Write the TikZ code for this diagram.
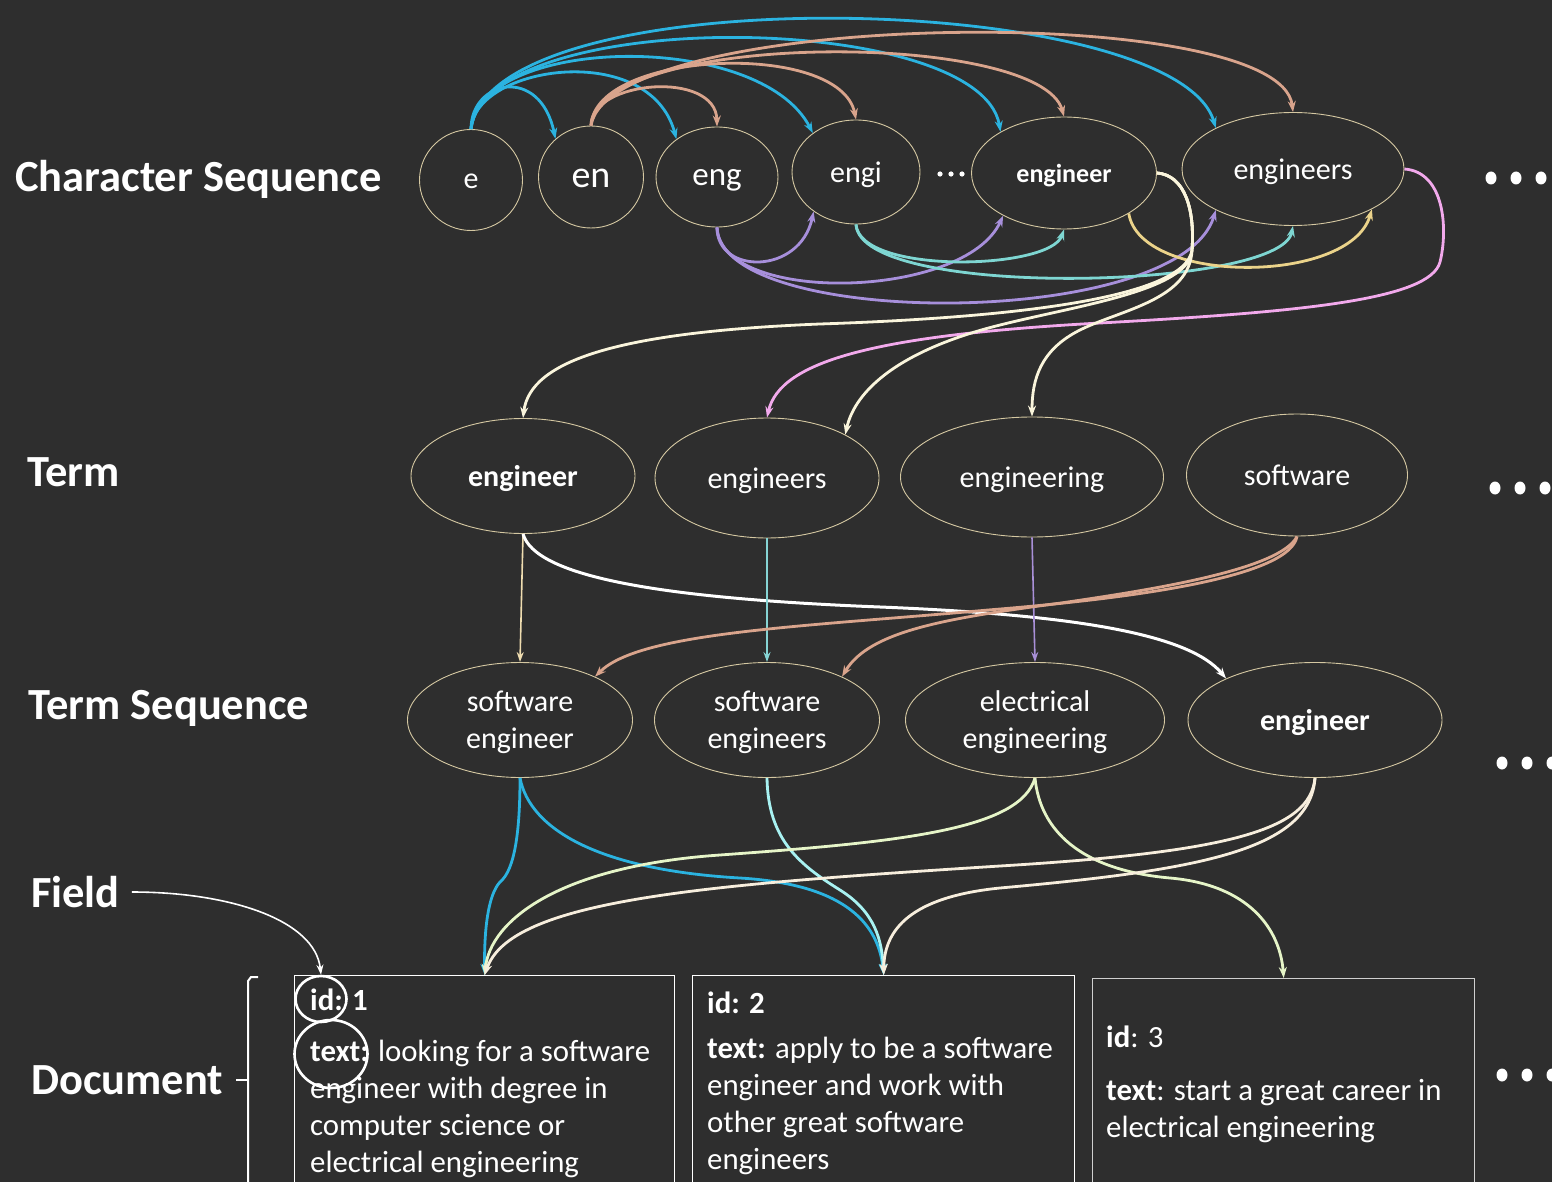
\documentclass[tikz,border=0pt]{standalone}
\usepackage{fontspec}
\setmainfont{Carlito}
\usetikzlibrary{shapes.geometric,arrows.meta}
\definecolor{bg}{HTML}{2E2E2E}
\definecolor{nodeborder}{HTML}{D5C8A2}
\definecolor{cBlue}{HTML}{2BB3E0}
\definecolor{cSalmon}{HTML}{D9A48C}
\definecolor{cPurple}{HTML}{A78FDB}
\definecolor{cTeal}{HTML}{7ED6D2}
\definecolor{cYellow}{HTML}{EBD38A}
\definecolor{cPink}{HTML}{F2A9EC}
\definecolor{cCream}{HTML}{FAF5DC}
\definecolor{cLYellow}{HTML}{EFDDB0}
\definecolor{cLTeal}{HTML}{86D4D4}
\definecolor{cLPurple}{HTML}{A990D8}
\definecolor{cLGreen}{HTML}{E6F5C8}
\definecolor{cLCyan}{HTML}{A8F2F2}
\definecolor{cCream2}{HTML}{F7EEDD}
\definecolor{cGrayBorder}{HTML}{CFCFCF}
\begin{document}
\begin{tikzpicture}[x=1pt,y=-1pt,
  lbl/.style={anchor=west, text=white, inner sep=0pt, font=\bfseries\fontsize{44.5}{52}\selectfont},
  circ/.style={ellipse, draw=nodeborder, line width=0.9pt, text=white, inner sep=0pt, align=center, text depth=0pt},
  arr/.style={-{Stealth[length=11pt,width=8pt]}, line width=2.8pt},
  thinarr/.style={-{Stealth[length=10pt,width=7pt]}, line width=1.6pt},
  docbox/.style={draw=white, line width=1.4pt, inner sep=0pt, anchor=north west},
  doctext/.style={anchor=north west, inner sep=0pt, text=white, align=left, font=\fontsize{30.8}{37}\selectfont},
  fieldcirc/.style={ellipse, draw=white, line width=2.6pt, inner sep=0pt}
]
\fill[bg] (0,0) rectangle (1552,1182);
\useasboundingbox (0,0) rectangle (1552,1182);
\clip (0,0) rectangle (1552,1182);

% ---------- labels ----------
\node[lbl] (lcs) at (15,179) {Character Sequence};
\node[lbl] (lterm) at (27,472) {Term};
\node[lbl] (lseq) at (28,708) {Term Sequence};
\node[lbl] (field) at (31,892) {Field};
\node[lbl] (ldoc) at (31,1080) {Document};

% ---------- character sequence ----------
\node[circ, minimum width=103, minimum height=101, font=\fontsize{30}{34}\selectfont] (e) at (471,180) {\raisebox{-3pt}{e}};
\node[circ, minimum width=105, minimum height=102, font=\fontsize{38}{44}\selectfont] (en) at (591,177) {\raisebox{-3pt}{en}};
\node[circ, minimum width=122, minimum height=100, font=\fontsize{33}{40}\selectfont] (eng) at (717,177) {eng};
\node[circ, minimum width=128, minimum height=104, font=\fontsize{30}{36}\selectfont] (engi) at (856,172) {engi};
\node[circ, minimum width=185, minimum height=112, font=\bfseries\fontsize{26}{30}\selectfont] (ceng) at (1064,173) {engineer};
\node[circ, minimum width=222, minimum height=113, font=\fontsize{30}{36}\selectfont] (cengs) at (1293,169) {engineers};
\foreach \k in {0,1,2} \fill[white] (940+11*\k,174) circle (2.6);

% ---------- terms ----------
\node[circ, minimum width=224, minimum height=115, font=\bfseries\fontsize{30}{36}\selectfont] (teng) at (523,476) {engineer};
\node[circ, minimum width=224, minimum height=120, font=\fontsize{30}{36}\selectfont] (tengs) at (767,478) {engineers};
\node[circ, minimum width=263, minimum height=120, font=\fontsize{30}{36}\selectfont] (tengg) at (1032,477) {engineering};
\node[circ, minimum width=221, minimum height=122, font=\fontsize{30}{36}\selectfont] (tsoft) at (1297,475) {software};

% ---------- term sequences ----------
\node[circ, minimum width=225, minimum height=115, font=\fontsize{30}{37}\selectfont] (sse) at (520,720) {software\\engineer};
\node[circ, minimum width=225, minimum height=115, font=\fontsize{30}{37}\selectfont] (sses) at (767,720) {software\\engineers};
\node[circ, minimum width=259, minimum height=115, font=\fontsize{30}{37}\selectfont] (see) at (1035,720) {electrical\\engineering};
\node[circ, minimum width=254, minimum height=115, font=\bfseries\fontsize{30}{37}\selectfont] (seng) at (1315,720) {engineer};

% ---------- right dots ----------
\foreach \yy/\xx in {178/1491, 488/1495, 763/1502, 1075/1502} {
  \foreach \k in {0,1,2} \fill[white] (\xx+25*\k,\yy) ellipse (5.5 and 6.5);
}

% ---------- documents ----------
\node[docbox, minimum width=380, minimum height=240] (doc1) at (294,975) {};
\node[docbox, minimum width=382, minimum height=240] (doc2) at (692,975) {};
\node[docbox, draw=cGrayBorder, minimum width=382, minimum height=240] (doc3) at (1092,978) {};
\node[doctext] (d1id) at (310,984) {\strut\textbf{id: 1}};
\node[doctext] (d1text) at (310,1035) {\strut\textbf{text:} looking for a software\\engineer with degree in\\computer science or\\electrical engineering};
\node[doctext] (d2id) at (707,987) {\strut\textbf{id: 2}};
\node[doctext] (d2text) at (707,1032) {\strut\textbf{text:} apply to be a software\\engineer and work with\\other great software\\engineers};
\node[doctext] (d3id) at (1106,1021) {\strut\textbf{id}: 3};
\node[doctext] (d3text) at (1106,1074) {\strut\textbf{text}: start a great career in\\electrical engineering};
\node[fieldcirc, minimum width=51, minimum height=46] (idc) at (321,999) {};
\node[fieldcirc, minimum width=73, minimum height=68] (textc) at (331,1054) {};

% bracket
\draw[white, line width=2pt] (258,977) -- (251,977) -- (248,981) -- (248,1190);
\draw[white, line width=2pt] (248,1080) -- (236,1080);

% field arrow
\draw[white, line width=1.6pt, -{Stealth[length=10pt,width=7pt]}] ([xshift=12]field.east) .. controls (230,892) and (315,920) .. (idc.north);

% ---------- character sequence arcs ----------
\draw[arr, cBlue] (e.north) .. controls (471,80) and (540,65) .. (en.133);
\draw[arr, cBlue] (e.north) .. controls (475,65) and (650,40) .. (eng.137);
\draw[arr, cBlue] (e.north) .. controls (480,35) and (760,30) .. (engi.138);
\draw[arr, cBlue] (e.north) .. controls (485,5) and (980,10) .. (ceng.147);
\draw[arr, cBlue] (e.north) .. controls (490,-25) and (1175,-10) .. (cengs.152);

\draw[arr, cSalmon] (en.north) .. controls (591,80) and (716,70) .. (eng.north);
\draw[arr, cSalmon] (en.north) .. controls (595,50) and (840,40) .. (engi.north);
\draw[arr, cSalmon] (en.north) .. controls (600,30) and (1040,30) .. (ceng.north);
\draw[arr, cSalmon] (en.north) .. controls (610,10) and (1280,0) .. (cengs.north);

\draw[arr, cPurple] (eng.south) .. controls (717,275) and (800,275) .. (engi.223);
\draw[arr, cPurple] (eng.south) .. controls (720,305) and (965,300) .. (ceng.215);
\draw[arr, cPurple] (eng.south) .. controls (720,330) and (1180,330) .. (cengs.208);
\draw[arr, cTeal] (engi.south) .. controls (860,275) and (1050,270) .. (ceng.south);
\draw[arr, cTeal] (engi.south) .. controls (860,300) and (1280,290) .. (cengs.south);
\draw[arr, cYellow] (ceng.328) .. controls (1140,285) and (1350,285) .. (cengs.333);

% ---------- char seq -> term ----------
\draw[arr, cPink] (cengs.east) .. controls (1445,172) and (1448,230) .. (1440,262) .. controls (1430,300) and (1300,312) .. (1100,323) .. controls (880,335) and (780,360) .. (tengs.north);
\draw[arr, cCream] (ceng.east) .. controls (1185,175) and (1195,210) .. (1192,250) .. controls (1185,300) and (1000,318) .. (820,324) .. controls (620,332) and (530,360) .. (teng.north);
\draw[arr, cCream] (ceng.east) .. controls (1185,175) and (1195,210) .. (1192,250) .. controls (1190,290) and (1080,305) .. (1000,325) .. controls (900,350) and (855,390) .. (tengs.29);
\draw[arr, cCream] (ceng.east) .. controls (1185,175) and (1195,210) .. (1192,250) .. controls (1190,300) and (1120,310) .. (1080,330) .. controls (1040,350) and (1032,380) .. (tengg.north);

% ---------- term -> term sequence ----------
\draw[thinarr, cLYellow] (teng.south) -- (sse.north);
\draw[arr, white, line width=3pt] (teng.south) .. controls (535,575) and (650,598) .. (880,607) .. controls (1080,615) and (1190,635) .. (seng.155);
\draw[thinarr, cLTeal] (tengs.south) -- (sses.north);
\draw[thinarr, cLPurple] (tengg.south) -- (see.north);
\draw[arr, cSalmon] (tsoft.south) .. controls (1290,575) and (1150,597) .. (988,610) .. controls (800,627) and (640,632) .. (sse.30);
\draw[arr, cSalmon] (tsoft.south) .. controls (1280,570) and (1150,590) .. (1061,603) .. controls (950,618) and (870,630) .. (sses.30);

% ---------- term sequence -> documents ----------
\draw[arr, cBlue] (sse.south) .. controls (520,830) and (515,870) .. (500,882) .. controls (488,895) and (484,930) .. (doc1.north);
\draw[arr, cBlue] (sse.south) .. controls (530,830) and (600,870) .. (740,878) .. controls (840,884) and (878,920) .. (doc2.north);
\draw[arr, cLCyan] (sses.south) .. controls (768,840) and (800,865) .. (840,890) .. controls (875,912) and (882,940) .. (doc2.north);
\draw[arr, cLGreen] (see.south) .. controls (1020,830) and (900,842) .. (720,855) .. controls (560,866) and (490,920) .. (doc1.north);
\draw[arr, cLGreen] (see.south) .. controls (1040,830) and (1080,870) .. (1170,878) .. controls (1250,885) and (1280,930) .. (doc3.north);
\draw[arr, cCream2] (seng.south) .. controls (1310,830) and (1230,852) .. (1000,866) .. controls (700,885) and (510,900) .. (doc1.north);
\draw[arr, cCream2] (seng.south) .. controls (1310,850) and (1200,870) .. (1000,888) .. controls (910,897) and (884,930) .. (doc2.north);
\end{tikzpicture}
\end{document}
